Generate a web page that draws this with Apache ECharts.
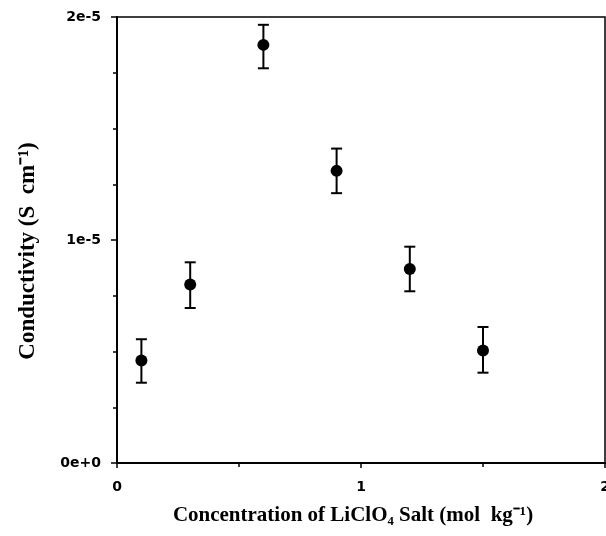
<!DOCTYPE html>
<html>
<head>
<meta charset="utf-8">
<script src="https://cdn.jsdelivr.net/npm/echarts@6/dist/echarts.min.js"></script>
<style>
html,body{margin:0;padding:0;background:#fff;}
#chart{width:606px;height:536px;}
</style>
</head>
<body>
<div id="chart"></div>
<script>
// Data
var concentration = [0.1, 0.3, 0.6, 0.9, 1.2, 1.5];
var conductivity = [4.6e-6, 8.0e-6, 1.875e-5, 1.31e-5, 8.7e-6, 5.05e-6];
var errLow = [3.6e-6, 6.95e-6, 1.77e-5, 1.21e-5, 7.7e-6, 4.05e-6];
var errHigh = [5.55e-6, 9.0e-6, 1.965e-5, 1.41e-5, 9.7e-6, 6.1e-6];
var xTicks = [0, 1, 2];
var yTicks = [0, 1e-5, 2e-5];

var chart = echarts.init(document.getElementById('chart'));
var points = concentration.map(function (x, i) { return [x, conductivity[i]]; });
var bars = concentration.map(function (x, i) { return [x, errLow[i], errHigh[i]]; });

function fmtY(v) {
  if (yTicks.indexOf(v) < 0) return '';
  if (v === 0) return '0e+0';
  return v.toExponential(0);
}

var option = {
  backgroundColor: '#fff',
  animation: false,
  grid: {
    left: 117, top: 17, right: 1, bottom: 73,
    containLabel: false, outerBoundsMode: 'none',
    show: true, borderColor: '#000', borderWidth: 1.5, backgroundColor: 'transparent'
  },
  xAxis: {
    type: 'value', min: 0, max: 2, interval: 1,
    splitLine: { show: false },
    axisLine: { show: true, lineStyle: { color: '#000', width: 2 } },
    axisTick: { show: true, inside: false, length: 5, lineStyle: { color: '#000', width: 1.5 } },
    minorTick: { show: true, splitNumber: 2, length: 4, lineStyle: { color: '#000', width: 1.5 } },
    axisLabel: {
      margin: 17, color: '#000', fontFamily: 'DejaVu Sans, sans-serif',
      fontWeight: 'bold', fontSize: 14, showMaxLabel: true, showMinLabel: true,
      formatter: function (v) { return xTicks.indexOf(v) >= 0 ? String(v) : ''; }
    },
    name: 'Concentration of LiClO\u2084 Salt (mol  kg\u207B\u00B9)',
    nameLocation: 'middle', nameGap: 42,
    nameTextStyle: { color: '#000', fontFamily: 'Liberation Serif, Times New Roman, serif', fontWeight: 'bold', fontSize: 21, padding: [0, 16, 0, 0] }
  },
  yAxis: {
    type: 'value', min: 0, max: 2e-5, interval: 1e-5,
    splitLine: { show: false },
    axisLine: { show: true, lineStyle: { color: '#000', width: 2 } },
    axisTick: { show: true, inside: false, length: 6, lineStyle: { color: '#000', width: 1.5 } },
    minorTick: { show: true, splitNumber: 4, length: 4, lineStyle: { color: '#000', width: 1.5 } },
    axisLabel: {
      margin: 16, color: '#000', fontFamily: 'DejaVu Sans, sans-serif',
      fontWeight: 'bold', fontSize: 14, showMaxLabel: true, showMinLabel: true,
      formatter: function (v) { return fmtY(v); }
    },
    name: 'Conductivity (S  cm\u207B\u00B9)',
    nameLocation: 'middle', nameGap: 77, nameRotate: 90,
    nameTextStyle: { color: '#000', fontFamily: 'Liberation Serif, Times New Roman, serif', fontWeight: 'bold', fontSize: 23, padding: [0, 22, 0, 0] }
  },
  series: [
    {
      type: 'custom',
      data: bars,
      renderItem: function (params, api) {
        var x = api.value(0);
        var lo = api.coord([x, api.value(1)]);
        var hi = api.coord([x, api.value(2)]);
        var hw = 5.5;
        var style = { stroke: '#000', lineWidth: 2 };
        return {
          type: 'group',
          children: [
            { type: 'line', shape: { x1: lo[0], y1: lo[1], x2: hi[0], y2: hi[1] }, style: style },
            { type: 'line', shape: { x1: lo[0] - hw, y1: lo[1], x2: lo[0] + hw, y2: lo[1] }, style: style },
            { type: 'line', shape: { x1: hi[0] - hw, y1: hi[1], x2: hi[0] + hw, y2: hi[1] }, style: style }
          ]
        };
      },
      z: 2
    },
    {
      type: 'scatter',
      data: points,
      symbol: 'circle',
      symbolSize: 12,
      itemStyle: { color: '#000', opacity: 1 },
      z: 3
    }
  ]
};
chart.setOption(option);
</script>
</body>
</html>
